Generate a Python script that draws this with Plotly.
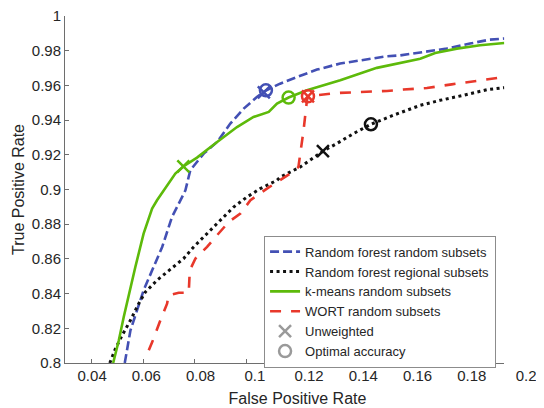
import plotly.graph_objects as go

# ---------------- data ----------------
rf_random_fpr = [0.0529, 0.0551, 0.0602, 0.0635, 0.0674, 0.0712, 0.0764, 0.0783, 0.0835, 0.0887,
                 0.0938, 0.0990, 0.1041, 0.1074, 0.1131, 0.1196, 0.1274, 0.1364, 0.1454, 0.1545,
                 0.1596, 0.1686, 0.1777, 0.1867, 0.1944, 0.2000]
rf_random_tpr = [0.8000, 0.8188, 0.8419, 0.8534, 0.8669, 0.8841, 0.8995, 0.9111, 0.9207, 0.9274,
                 0.9380, 0.9466, 0.9533, 0.9569, 0.9610, 0.9648, 0.9691, 0.9726, 0.9749, 0.9768,
                 0.9773, 0.9793, 0.9812, 0.9841, 0.9864, 0.9870]

rf_regional_fpr = [0.0471, 0.0493, 0.0519, 0.0551, 0.0583, 0.0609, 0.0654, 0.0719, 0.0757, 0.0796,
                   0.0848, 0.0899, 0.0951, 0.1003, 0.1054, 0.1119, 0.1132, 0.1209, 0.1297, 0.1351,
                   0.1415, 0.1483, 0.1570, 0.1674, 0.1751, 0.1841, 0.1932, 0.2000]
rf_regional_tpr = [0.8000, 0.8083, 0.8160, 0.8246, 0.8342, 0.8409, 0.8477, 0.8553, 0.8602, 0.8669,
                   0.8746, 0.8822, 0.8899, 0.8957, 0.9005, 0.9053, 0.9072, 0.9130, 0.9221, 0.9265,
                   0.9322, 0.9376, 0.9428, 0.9485, 0.9514, 0.9543, 0.9575, 0.9587]

kmeans_fpr = [0.0484, 0.0506, 0.0525, 0.0551, 0.0570, 0.0602, 0.0635, 0.0654, 0.0725, 0.0756,
              0.0809, 0.0887, 0.0964, 0.1028, 0.1087, 0.1119, 0.1164, 0.1235, 0.1364, 0.1506,
              0.1596, 0.1674, 0.1732, 0.1816, 0.1906, 0.2000]
kmeans_tpr = [0.8000, 0.8131, 0.8265, 0.8438, 0.8553, 0.8746, 0.8890, 0.8938, 0.9092, 0.9133,
              0.9184, 0.9274, 0.9360, 0.9418, 0.9447, 0.9495, 0.9530, 0.9572, 0.9630, 0.9701,
              0.9729, 0.9754, 0.9787, 0.9812, 0.9831, 0.9844]

wort_fpr = [0.0622, 0.0635, 0.0667, 0.0693, 0.0699, 0.0738, 0.0777, 0.0781, 0.0803, 0.0848,
            0.0880, 0.0932, 0.0977, 0.1016, 0.1080, 0.1132, 0.1170, 0.1202, 0.1222, 0.1235,
            0.1239, 0.1351, 0.1454, 0.1545, 0.1609, 0.1700, 0.1796, 0.1887, 0.2000]
wort_tpr = [0.8073, 0.8119, 0.8246, 0.8342, 0.8390, 0.8405, 0.8405, 0.8534, 0.8602, 0.8669,
            0.8725, 0.8813, 0.8861, 0.8938, 0.9005, 0.9053, 0.9092, 0.9130, 0.9342, 0.9514,
            0.9537, 0.9556, 0.9562, 0.9568, 0.9576, 0.9585, 0.9606, 0.9625, 0.9648]

# operating points: order = RF random, RF regional, k-means, WORT
unweighted_fpr = [0.1068, 0.1297, 0.0756, 0.1239]
unweighted_tpr = [0.9560, 0.9221, 0.9133, 0.9537]
optimal_fpr = [0.1076, 0.1483, 0.1164, 0.1239]
optimal_tpr = [0.9572, 0.9376, 0.9530, 0.9537]

series_names = ["Random forest random subsets", "Random forest regional subsets",
                "k-means random subsets", "WORT random subsets"]
marker_names = ["Unweighted", "Optimal accuracy"]

x_tick_vals = [0.04, 0.06, 0.08, 0.10, 0.12, 0.14, 0.16, 0.18, 0.20]
x_tick_text = ["0.04", "0.06", "0.08", "0.1", "0.12", "0.14", "0.16", "0.18", "0.2"]
y_tick_vals = [0.80, 0.82, 0.84, 0.86, 0.88, 0.90, 0.92, 0.94, 0.96, 0.98, 1.00]
y_tick_text = ["0.8", "0.82", "0.84", "0.86", "0.88", "0.9", "0.92", "0.94", "0.96", "0.98", "1"]

# ---------------- style ----------------
BLUE = "#4350B4"
BLACK = "#111111"
GREEN = "#5DBA0A"
RED = "#E8382B"
GRAY = "#9A9A9A"
AXIS = "#6E6E6E"
TEXT = "#262626"
FONT = "Liberation Sans, Arial, Helvetica, sans-serif"

colors = [BLUE, BLACK, GREEN, RED]
dashes = ["9px,4px", "3px,3.5px", "solid", "11px,10px"]
widths = [2.6, 3.0, 2.6, 2.6]
xs = [rf_random_fpr, rf_regional_fpr, kmeans_fpr, wort_fpr]
ys = [rf_random_tpr, rf_regional_tpr, kmeans_tpr, wort_tpr]

fig = go.Figure()

for name, x, y, c, d, w in zip(series_names, xs, ys, colors, dashes, widths):
    fig.add_trace(go.Scatter(x=x, y=y, mode="lines", name=name,
                             line=dict(color=c, width=w, dash=d), hoverinfo="skip"))

fig.add_trace(go.Scatter(x=unweighted_fpr, y=unweighted_tpr, mode="markers", showlegend=False,
                         marker=dict(symbol="x-thin-open", size=12, color=colors,
                                     line=dict(color=colors, width=2.5))))
fig.add_trace(go.Scatter(x=optimal_fpr, y=optimal_tpr, mode="markers", showlegend=False,
                         marker=dict(symbol="circle-open", size=12, color=colors,
                                     line=dict(color=colors, width=2.5))))

# legend-only entries for marker meanings
fig.add_trace(go.Scatter(x=[None], y=[None], mode="markers", name=marker_names[0],
                         marker=dict(symbol="x-thin-open", size=12, color=GRAY,
                                     line=dict(color=GRAY, width=2.5))))
fig.add_trace(go.Scatter(x=[None], y=[None], mode="markers", name=marker_names[1],
                         marker=dict(symbol="circle-open", size=12, color=GRAY,
                                     line=dict(color=GRAY, width=2.5))))

# invisible helper trace for the tick-label axis
fig.add_trace(go.Scatter(x=x_tick_vals, y=[None] * len(x_tick_vals), xaxis="x2",
                         mode="markers", showlegend=False, hoverinfo="skip"))

fig.update_layout(
    width=536, height=400,
    margin=dict(l=56.5, r=14, t=7.7, b=45.3, autoexpand=False),
    paper_bgcolor="white", plot_bgcolor="rgba(0,0,0,0)",
    font=dict(family=FONT, size=15, color=TEXT),
    showlegend=True,
    legend=dict(x=0.927, y=0.367, xanchor="right", yanchor="top",
                bgcolor="white", bordercolor="#8C8C8C", borderwidth=1,
                font=dict(family=FONT, size=13, color=TEXT),
                tracegroupgap=0, itemwidth=30),
    xaxis=dict(domain=[0, 0.9448], range=[0.02974, 0.2], tickvals=x_tick_vals,
               showticklabels=False,
               ticks="inside", ticklen=4, tickcolor=AXIS, tickwidth=1,
               showline=True, linecolor=AXIS, linewidth=1, mirror=False,
               showgrid=False, zeroline=False, automargin=False),
    xaxis2=dict(domain=[0, 1], range=[0.0300, 0.20145], anchor="y", side="bottom",
                tickvals=x_tick_vals, ticktext=x_tick_text, ticks="",
                showline=False, showgrid=False, zeroline=False, automargin=False,
                tickfont=dict(size=15, color=TEXT), ticklabelstandoff=2,
                ticklabeloverflow="allow",
                title=dict(text="False Positive Rate", font=dict(size=16, color=TEXT), standoff=9)),
    yaxis=dict(domain=[0, 1], range=[0.8, 1.0], tickvals=y_tick_vals, ticktext=y_tick_text,
               ticks="inside", ticklen=4, tickcolor=AXIS, tickwidth=1,
               showline=True, linecolor=AXIS, linewidth=1, mirror=False,
               showgrid=False, zeroline=False, automargin=False,
               ticklabeloverflow="allow",
               tickfont=dict(size=15, color=TEXT),
               title=dict(text="True Positive Rate", font=dict(size=16, color=TEXT), standoff=3)),
)

fig.write_html("out.html")
